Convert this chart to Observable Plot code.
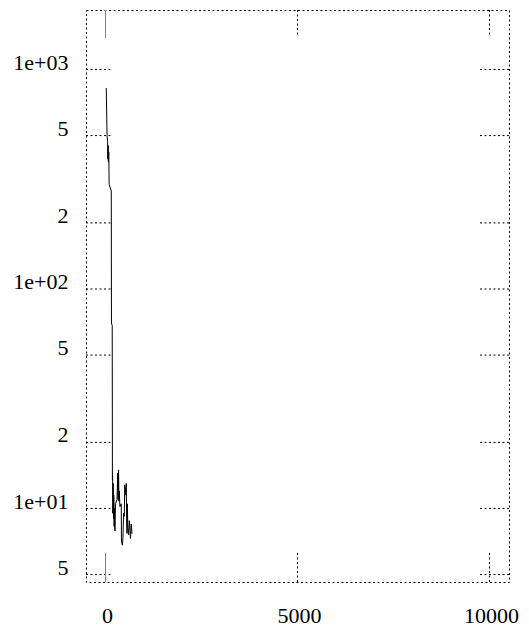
<!DOCTYPE html>
<html>
<head>
<meta charset="utf-8">
<script src="https://cdn.jsdelivr.net/npm/d3@7"></script>
<script src="https://cdn.jsdelivr.net/npm/@observablehq/plot@0.6"></script>
<style>
  html, body { margin: 0; padding: 0; background: #fff; }
  svg { display: block; }
</style>
</head>
<body>
<div id="chart"></div>
<script>
// Series (iteration, value)
const iterations = [20, 40, 55, 60, 70, 75, 85, 95, 150, 155, 175, 180,
  185, 190, 200, 210, 215, 225, 235, 245, 260, 300, 320, 330, 340, 350, 360, 375,
  410, 415, 440, 455, 470, 490, 500, 530, 540, 550, 560, 570, 580, 600, 620, 650, 670, 690];
const values = [820, 500, 470, 390, 450, 380, 420, 300, 280, 70, 68, 13.5,
  14, 9.5, 13, 9, 11.5, 8.3, 10, 7.9, 10.5, 11, 14.5, 11, 15, 10.8, 12, 10.2,
  10.5, 7.1, 6.8, 7.4, 9.5, 9.2, 12.8, 11.5, 13, 9, 7.7, 10.5, 8.2, 7.6, 8.8, 7.3, 8.5, 7.7];

const yTickValues = [5, 10, 20, 50, 100, 200, 500, 1000];
const yTickLabels = ["5", "1e+01", "2", "5", "1e+02", "2", "5", "1e+03"];
const xTickValues = [0, 5000, 10000];
const xTickLabels = ["0", "5000", "10000"];

const data = iterations.map((x, i) => ({x, y: values[i]}));

const W = 529, H = 635;
const mL = 86, mR = 20, mT = 10, mB = 53;
const pw = W - mL - mR, ph = H - mT - mB;
const dash = "2,2.5";
const font = "'Liberation Serif', 'Times New Roman', serif";

const chart = Plot.plot({
  width: W,
  height: H,
  marginLeft: mL,
  marginRight: mR,
  marginTop: mT,
  marginBottom: mB,
  style: {fontFamily: font, fontSize: "22px", background: "#fff", color: "#000"},
  x: {domain: [-495, 10521], axis: null},
  y: {type: "log", domain: [4.6, 1857], axis: null},
  marks: [
    Plot.frame({stroke: "#000", strokeDasharray: dash}),
    Plot.tickY(yTickValues, {y: d => d, insetRight: pw - 27, stroke: "#000", strokeDasharray: dash}),
    Plot.tickY(yTickValues, {y: d => d, insetLeft: pw - 29, stroke: "#000", strokeDasharray: dash}),
    Plot.tickX(xTickValues.filter(v => v !== 0), {x: d => d, insetBottom: ph - 27, stroke: "#000", strokeDasharray: dash}),
    Plot.tickX(xTickValues.filter(v => v !== 0), {x: d => d, insetTop: ph - 29, stroke: "#000", strokeDasharray: dash}),
    Plot.tickX(xTickValues.filter(v => v === 0), {x: d => d, insetBottom: ph - 28, stroke: "#808080"}),
    Plot.tickX(xTickValues.filter(v => v === 0), {x: d => d, insetTop: ph - 29, stroke: "#808080"}),
    Plot.line(data, {x: "x", y: "y", stroke: "#000", strokeWidth: 1}),
    Plot.text(yTickValues, {y: d => d, text: (d, i) => yTickLabels[i], frameAnchor: "left", textAnchor: "end", dx: -18, dy: -7, fontSize: 22, fontFamily: font, fill: "#000"}),
    Plot.text(xTickValues, {x: d => d, text: (d, i) => xTickLabels[i], frameAnchor: "bottom", lineAnchor: "top", dx: 2, dy: 25, fontSize: 22, fontFamily: font, fill: "#000"})
  ]
});
document.getElementById("chart").appendChild(chart);
</script>
</body>
</html>
